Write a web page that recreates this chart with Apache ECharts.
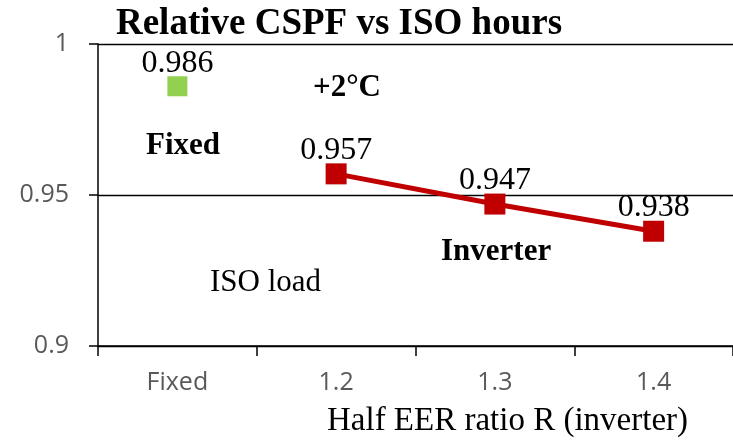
<!DOCTYPE html>
<html><head><meta charset="utf-8">
<script src="https://cdn.jsdelivr.net/npm/echarts@6/dist/echarts.min.js"></script>
<style>html,body{margin:0;padding:0;background:#fff}#c{width:733px;height:443px}</style>
</head><body><div id="c"></div>
<script>
var categories = ['Fixed', '1.2', '1.3', '1.4'];
var fixedValues = [0.986, null, null, null];
var inverterValues = [null, 0.957, 0.947, 0.938];
var yTicks = [0.9, 0.95, 1];

var serif = '"Liberation Serif", "Times New Roman", serif';
var sans = '"Open Sans", "Liberation Sans", sans-serif';
var chart = echarts.init(document.getElementById('c'));
var labelStyle = {show: true, position: 'top', distance: -3, fontFamily: serif, fontSize: 32, color: '#000',
  formatter: function (p) { return p.value == null ? '' : p.value.toFixed(3); }};
chart.setOption({
  animation: false,
  title: {text: 'Relative CSPF vs ISO hours', left: 334, textAlign: 'center', top: 1,
    textStyle: {fontFamily: serif, fontWeight: 'bold', fontSize: 37, color: '#000'}},
  grid: {left: 98, right: -5, top: 44, bottom: 95, containLabel: false},
  xAxis: {type: 'category', data: categories, boundaryGap: true,
    axisLine: {lineStyle: {color: '#000', width: 1.5}},
    axisTick: {show: true, length: 10, lineStyle: {color: '#000', width: 1.5}},
    axisLabel: {fontFamily: sans, fontSize: 25, color: '#595959', margin: 24},
    name: 'Half EER ratio R (inverter)', nameLocation: 'middle', nameGap: 59,
    nameTextStyle: {fontFamily: serif, fontSize: 33, color: '#000', padding: [0, 0, 0, 184]}},
  yAxis: {type: 'value', min: 0.9, max: 1, interval: 0.05,
    axisLine: {show: true, lineStyle: {color: '#000', width: 1.5}},
    axisTick: {show: true, length: 9, lineStyle: {color: '#000', width: 1.5}},
    splitLine: {show: true, lineStyle: {color: '#000', width: 1.3}},
    axisLabel: {fontFamily: sans, fontSize: 25, color: '#595959', margin: 29,
      formatter: function (v) { return yTicks.indexOf(+v.toFixed(2)) >= 0 ? String(+v.toFixed(2)) : ''; }}},
  series: [
    {type: 'line', data: fixedValues, symbol: 'rect', symbolSize: 20, showSymbol: true,
      itemStyle: {color: '#92D050'}, lineStyle: {width: 0}, label: labelStyle},
    {type: 'line', data: inverterValues, symbol: 'rect', symbolSize: 21,
      itemStyle: {color: '#C00000'}, lineStyle: {color: '#C00000', width: 5}, label: labelStyle}
  ],
  graphic: [
    {type: 'text', left: 313, top: 72, style: {text: '+2°C', font: 'bold 31px ' + serif, fill: '#000'}},
    {type: 'text', left: 146, top: 130, style: {text: 'Fixed', font: 'bold 31px ' + serif, fill: '#000'}},
    {type: 'text', left: 441, top: 236, style: {text: 'Inverter', font: 'bold 31px ' + serif, fill: '#000'}},
    {type: 'text', left: 210, top: 267, style: {text: 'ISO load', font: '31px ' + serif, fill: '#000'}}
  ]
});
</script></body></html>
